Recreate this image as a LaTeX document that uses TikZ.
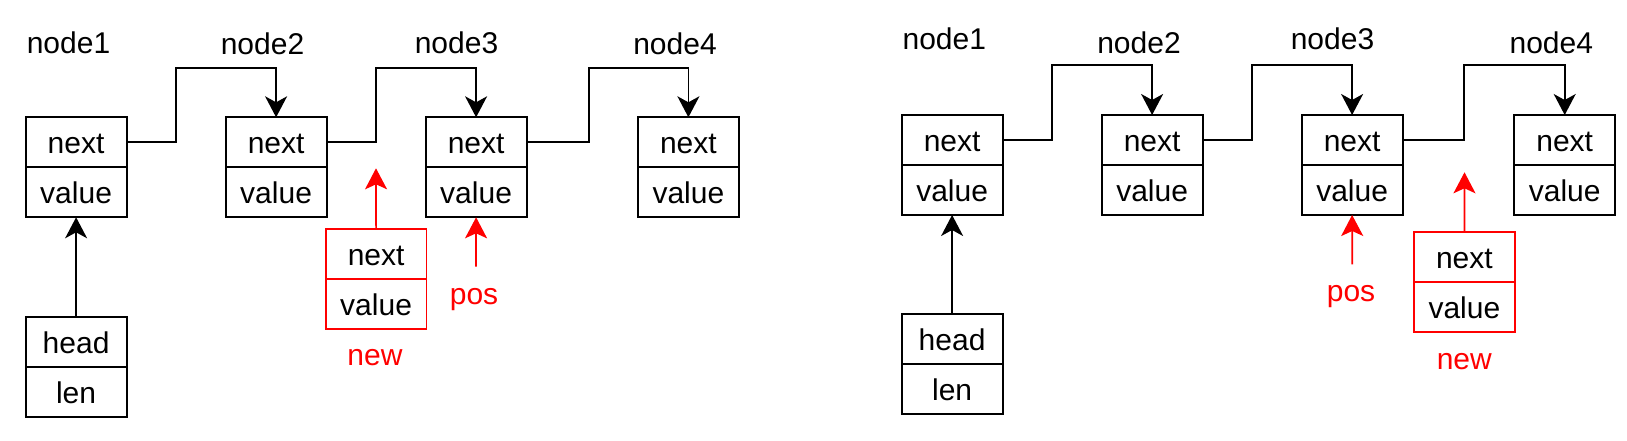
\documentclass[tikz,border=0pt]{standalone}
\usepackage{fontspec}
\setmainfont{Liberation Sans}
\usetikzlibrary{arrows.meta}
\tikzset{
  txt/.style={font=\fontsize{30pt}{36pt}\selectfont},
  cell/.style={txt, draw=black, line width=2pt, minimum width=100.8pt, minimum height=50pt,
    inner sep=0pt, outer sep=0pt, text height=23pt, text depth=0pt},
  redcell/.style={cell, draw=red, line width=1.8pt},
  lbl/.style={txt, inner sep=0pt, anchor=base},
  redlbl/.style={lbl, text=red},
  link/.style={line width=1.7pt, draw=black, -{Stealth[length=21pt,width=22pt,inset=6pt]}},
  redlink/.style={line width=1.7pt, draw=red, -{Stealth[length=21pt,width=22pt,inset=5pt, fill=red]}},
}
\begin{document}
\begin{tikzpicture}[x=1pt,y=-1pt]
\useasboundingbox (0,0) rectangle (1627,441);

% ===== left diagram =====
\node[cell, anchor=north west] (L1n) at (25.7,117.3) {next};
\node[cell, anchor=north] (L1v) at (L1n.south) {value};
\node[cell, anchor=north west] (L2n) at (225.7,117.3) {next};
\node[cell, anchor=north] (L2v) at (L2n.south) {value};
\node[cell, anchor=north west] (L3n) at (425.7,117.3) {next};
\node[cell, anchor=north] (L3v) at (L3n.south) {value};
\node[cell, anchor=north west] (L4n) at (638,117.3) {next};
\node[cell, anchor=north] (L4v) at (L4n.south) {value};
\node[cell, anchor=north west] (Lhh) at (25.7,317) {head};
\node[cell, anchor=north] (Lhl) at (Lhh.south) {len};
\node[redcell, anchor=north west] (LNn) at (325.7,228.7) {next};
\node[redcell, anchor=north] (LNv) at (LNn.south) {value};

\node[lbl] (Lt1) at (68.5,53.3) {node1};
\node[lbl] (Lt2) at (262.5,55) {node2};
\node[lbl] (Lt3) at (456.5,53.3) {node3};
\node[lbl] (Lt4) at (675,55) {node4};
\node[redlbl] (Lpos) at (474,304) {pos};
\node[redlbl] (Lnew) at (375,365.7) {new};

\coordinate (LnewTip) at (376,168.3);
\coordinate (LposStart) at (476,266.7);

\draw[link] (L1n.east) -| (176,67.7) -| (L2n.north);
\draw[link] (L2n.east) -| (376,67.7) -| (L3n.north);
\draw[link] (L3n.east) -| (588.7,67.7) -| (L4n.north);
\draw[link] (Lhh.north) -- (L1v.south);
\draw[redlink] (LNn.north) -- (LnewTip);
\draw[redlink] (LposStart) -- (L3v.south);

% ===== right diagram =====
\node[cell, anchor=north west] (R1n) at (901.7,115) {next};
\node[cell, anchor=north] (R1v) at (R1n.south) {value};
\node[cell, anchor=north west] (R2n) at (1101.7,115) {next};
\node[cell, anchor=north] (R2v) at (R2n.south) {value};
\node[cell, anchor=north west] (R3n) at (1301.7,115) {next};
\node[cell, anchor=north] (R3v) at (R3n.south) {value};
\node[cell, anchor=north west] (R4n) at (1514.3,115) {next};
\node[cell, anchor=north] (R4v) at (R4n.south) {value};
\node[cell, anchor=north west] (Rhh) at (901.7,314.3) {head};
\node[cell, anchor=north] (Rhl) at (Rhh.south) {len};
\node[redcell, anchor=north west] (RNn) at (1414,232.3) {next};
\node[redcell, anchor=north] (RNv) at (RNn.south) {value};

\node[lbl] (Rt1) at (944.3,50) {node1};
\node[lbl] (Rt2) at (1139,53.3) {node2};
\node[lbl] (Rt3) at (1332.5,50) {node3};
\node[lbl] (Rt4) at (1551.3,53.3) {node4};
\node[redlbl] (Rpos) at (1351,301.7) {pos};
\node[redlbl] (Rnew) at (1464.3,369.3) {new};

\coordinate (RnewTip) at (1464.5,172.3);
\coordinate (RposStart) at (1352.3,264.3);

\draw[link] (R1n.east) -| (1052,65) -| (R2n.north);
\draw[link] (R2n.east) -| (1252,65) -| (R3n.north);
\draw[link] (R3n.east) -| (1464.3,65) -| (R4n.north);
\draw[link] (Rhh.north) -- (R1v.south);
\draw[redlink] (RNn.north) -- (RnewTip);
\draw[redlink] (RposStart) -- (R3v.south);
\end{tikzpicture}
\end{document}
